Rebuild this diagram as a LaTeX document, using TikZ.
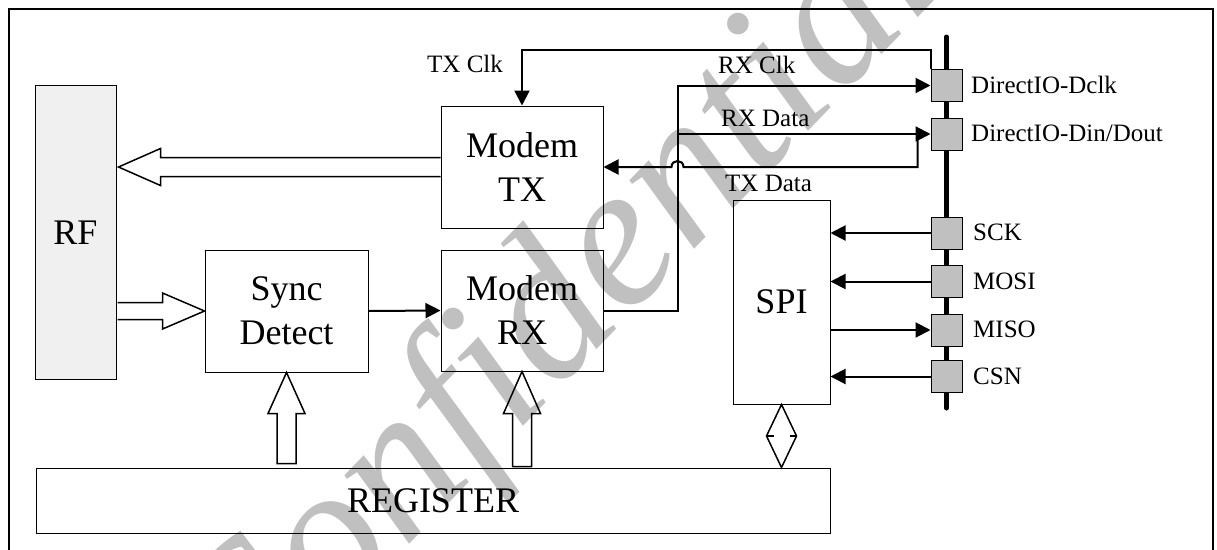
\documentclass[tikz,border=0pt]{standalone}
\usepackage{fontspec}
\setmainfont{Liberation Serif}
\usetikzlibrary{arrows.meta,calc}
\definecolor{rfgray}{RGB}{240,240,240}
\definecolor{pingray}{RGB}{192,192,192}
\definecolor{wmgray}{RGB}{192,192,192}
\begin{document}
\begin{tikzpicture}[x=1pt,y=-1pt,
  box/.style={draw, line width=1pt, inner sep=0pt, align=center, font=\fontsize{36}{44}\selectfont},
  pinbox/.style={draw, line width=1pt, fill=pingray, minimum width=31pt, minimum height=32pt, inner sep=0pt},
  lbl/.style={font=\fontsize{25}{30}\selectfont, inner sep=0pt},
  wire/.style={line width=2pt},
  tip/.style={-{Triangle[length=15pt,width=15pt]}},
  hollow/.style={draw, line width=1.5pt, line join=miter}
]
\useasboundingbox (0,0) rectangle (1217,549);
% watermark
\node[text=wmgray, font=\fontsize{205}{205}\selectfont\itshape, rotate=46, inner sep=0pt] (wm) at (558,318) {Confidential};
% frame
\draw[line width=2.5pt] (9,560) -- (9,9) -- (1213,9) -- (1213,560);
% blocks
\node[box, fill=rfgray, minimum width=81pt, minimum height=294pt] (rf) at (75.5,232.5) {RF};
\node[box, minimum width=162pt, minimum height=122pt] (mtx) at (522,167) {Modem\\TX};
\node[box, minimum width=162pt, minimum height=121pt] (mrx) at (522,310.5) {Modem\\RX};
\node[box, minimum width=163pt, minimum height=122pt] (sync) at (286.5,311) {Sync\\Detect};
\node[box, minimum width=97pt, minimum height=204pt] (spi) at (781.5,302) {SPI};
\node[box, minimum width=794pt, minimum height=65pt] (reg) at (433,500.5) {REGISTER};
% bus and pins
\coordinate (bustop) at (946.5,37);
\coordinate (busbot) at (946.5,408);
\draw[line width=5pt, line cap=round] (bustop) -- (busbot);
\node[pinbox] (dclk) at (946.5,85.5) {};
\node[pinbox] (din) at (946.5,134) {};
\node[pinbox] (sck) at (946.5,233) {};
\node[pinbox] (mosi) at (946.5,281.5) {};
\node[pinbox] (miso) at (946.5,330) {};
\node[pinbox] (csn) at (946.5,376.5) {};
\node[lbl, anchor=base west] (ldclk) at (971,93) {DirectIO-Dclk};
\node[lbl, anchor=base west] (ldin) at (971,141.5) {DirectIO-Din/Dout};
\node[lbl, anchor=base west] (lsck) at (973,240.5) {SCK};
\node[lbl, anchor=base west] (lmosi) at (973,289) {MOSI};
\node[lbl, anchor=base west] (lmiso) at (973,337.5) {MISO};
\node[lbl, anchor=base west] (lcsn) at (973,384) {CSN};
% wire labels
\node[lbl, anchor=base west] (ltxclk) at (427,72) {TX Clk};
\node[lbl, anchor=base west] (lrxclk) at (718,73) {RX Clk};
\node[lbl, anchor=base west] (lrxdat) at (721,126) {RX Data};
\node[lbl, anchor=base west] (ltxdat) at (725,191) {TX Data};
% wires
\coordinate (ttop) at (0,50);
\coordinate (jx) at (677.5,0);
\coordinate (txd) at ([xshift=-13pt]din.west);
\draw[wire,tip] (dclk.north west) |- (mtx.north |- ttop) -- (mtx.north);
\draw[wire,tip] (mrx.east) -| (jx |- dclk.west) -- (dclk.west);
\draw[wire,tip] (jx |- din.west) -- (din.west);
\draw[wire,tip] (txd) -- (txd |- mtx.east) -- ($(jx |- mtx.east)+(6,0)$) .. controls +(0,-8) and +(0,-8) .. ($(jx |- mtx.east)+(-6,0)$) -- (mtx.east);
\draw[wire,tip] (sync.east) -- (mrx.west);
\draw[wire,tip] (sck.west) -- (sck.west -| spi.east);
\draw[wire,tip] (mosi.west) -- (mosi.west -| spi.east);
\draw[wire,tip] (miso.west -| spi.east) -- (miso.west);
\draw[wire,tip] (csn.west) -- (csn.west -| spi.east);
% hollow arrows
\coordinate (a1) at (rf.east |- mtx.west);
\draw[hollow] ($(mtx.west)+(0,-9.5)$) -- ($(a1)+(44,-9.5)$) -- ($(a1)+(44,-18.5)$) -- ($(a1)+(2,0)$) -- ($(a1)+(44,18.5)$) -- ($(a1)+(44,9.5)$) -- ($(mtx.west)+(0,9.5)$);
\coordinate (a2) at (rf.east |- sync.west);
\draw[hollow] ($(a2)+(1,-8.5)$) -- ($(sync.west)+(-42,-8.5)$) -- ($(sync.west)+(-42,-18)$) -- (sync.west) -- ($(sync.west)+(-42,18)$) -- ($(sync.west)+(-42,8.5)$) -- ($(a2)+(1,8.5)$);
\coordinate (b1) at (sync.south |- reg.north);
\draw[hollow] ($(b1)+(-9.5,-4)$) -- ($(sync.south)+(-9.5,41)$) -- ($(sync.south)+(-18.5,41)$) -- (sync.south) -- ($(sync.south)+(18.5,41)$) -- ($(sync.south)+(9.5,41)$) -- ($(b1)+(9.5,-4)$) -- cycle;
\coordinate (b2) at (mrx.south |- reg.north);
\draw[hollow] ($(b2)+(-9.5,-1)$) -- ($(mrx.south)+(-9.5,42)$) -- ($(mrx.south)+(-18.5,42)$) -- (mrx.south) -- ($(mrx.south)+(18.5,42)$) -- ($(mrx.south)+(9.5,42)$) -- ($(b2)+(9.5,-1)$) -- cycle;
\coordinate (dm) at ($(spi.south)!0.5!(spi.south |- reg.north)$);
\draw[hollow] (spi.south) -- ($(dm)+(-15,0)$) -- (spi.south |- reg.north) -- ($(dm)+(15,0)$) -- cycle;
\draw[line width=1.5pt] ($(dm)+(-15,0)$) -- ($(dm)+(-8,0)$);
\draw[line width=1.5pt] ($(dm)+(8,0)$) -- ($(dm)+(15,0)$);
\end{tikzpicture}
\end{document}
